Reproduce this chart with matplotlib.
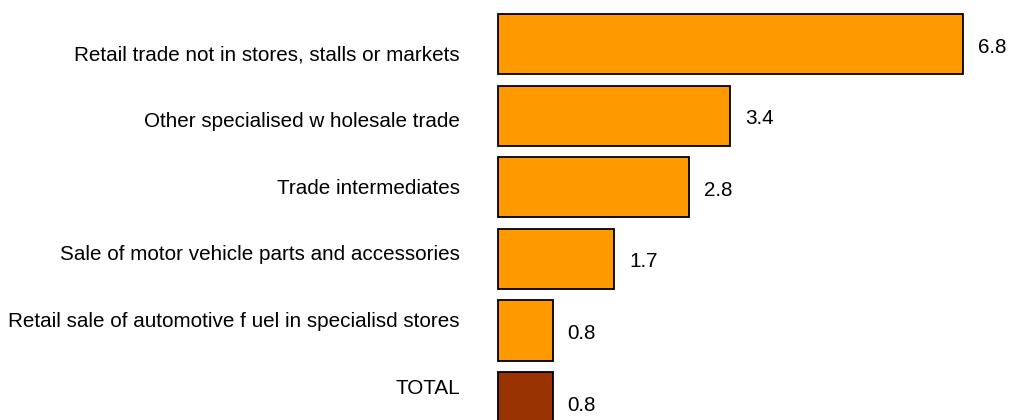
import matplotlib
matplotlib.use("Agg")
import matplotlib.pyplot as plt
import matplotlib.transforms as mtransforms

# categories, top to bottom
categories = [
    "Retail trade not in stores, stalls or markets",
    "Other specialised w holesale trade",
    "Trade intermediates",
    "Sale of motor vehicle parts and accessories",
    "Retail sale of automotive f uel in specialisd stores",
    "TOTAL",
]
values = [6.8, 3.4, 2.8, 1.7, 0.8, 0.8]
bar_colors = ["#FF9900"] * 5 + ["#993300"]

plt.rcParams["font.family"] = ["Liberation Sans", "DejaVu Sans"]
FS = 14.9

fig = plt.figure(figsize=(10.12, 4.2), dpi=100)
ax = fig.add_axes([498 / 1012, 0, 509 / 1012, 1])

ypos = list(range(len(values)))
bars = ax.barh(ypos, values, height=0.84, color=bar_colors, edgecolor="black",
               linewidth=1.3)
for b in bars:
    b.set_clip_on(False)
ax.set_xlim(0, 7.45)
ax.set_ylim(5.25, -0.615)

# value labels to the right of each bar
for y, v in zip(ypos, values):
    ax.annotate(f"{v:.1f}", (v, y), xytext=(15, -3), textcoords="offset pixels",
                ha="left", va="center", fontsize=FS)

# category labels on the left (slightly tighter spacing than the bars)
trans = mtransforms.blended_transform_factory(ax.transAxes, ax.transData)
for i, name in enumerate(categories):
    ax.annotate(name, (0, 0.155 + i * 0.93), xycoords=trans,
                xytext=(-38, 0), textcoords="offset pixels",
                ha="right", va="center", fontsize=FS)

ax.axis("off")
fig.savefig("out.png", dpi=100)
